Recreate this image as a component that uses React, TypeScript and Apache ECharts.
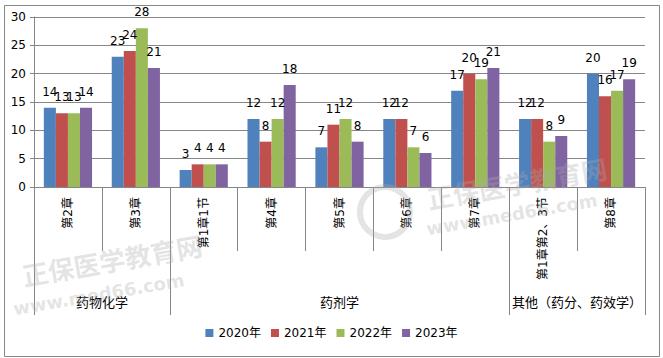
import React, { useEffect, useRef } from "react";
import * as echarts from "echarts";

const categories = ["第2章", "第3章", "第1章1节", "第4章", "第5章", "第6章", "第7章", "第1章第2、3节", "第8章"];
const seriesNames = ["2020年", "2021年", "2022年", "2023年"];
const v2020 = [14, 23, 3, 12, 7, 12, 17, 12, 20];
const v2021 = [13, 24, 4, 8, 11, 12, 20, 12, 16];
const v2022 = [13, 28, 4, 12, 12, 7, 19, 8, 17];
const v2023 = [14, 21, 4, 18, 8, 6, 21, 9, 19];
const groupNames = ["药物化学", "药剂学", "其他（药分、药效学）"];
const groupCenters = [1, 4.5, 8];
const groupBounds = [0, 2, 7, 9];
const yTicks = [0, 5, 10, 15, 20, 25, 30];
const colors = ["#4F81BD", "#C0504D", "#9BBB59", "#8064A2"];

export default function App() {
  const ref = useRef<HTMLDivElement>(null);
  useEffect(() => {
    if (!ref.current) return;
    const chart = echarts.init(ref.current, null, { renderer: "svg" });
    const values = [v2020, v2021, v2022, v2023];
    const font = "'DejaVu Sans', 'Noto Sans CJK SC', sans-serif";
    const wm = "rgba(170,170,170,0.32)";
    chart.setOption({
      animation: false,
      textStyle: { fontFamily: font },
      grid: { left: 34, right: 18, top: 17, bottom: 171, containLabel: false },
      legend: {
        bottom: 14,
        left: "center",
        itemWidth: 8,
        itemHeight: 8,
        itemGap: 10,
        icon: "rect",
        textStyle: { fontSize: 12, color: "#000", fontFamily: font },
        data: seriesNames,
      },
      xAxis: [
        {
          type: "category",
          data: categories,
          axisLine: { show: true, lineStyle: { color: "#868686" } },
          axisTick: { show: true, length: 64, alignWithLabel: false, lineStyle: { color: "#868686" } },
          axisLabel: { interval: 0, rotate: 90, fontSize: 12, color: "#000", margin: 10 },
        },
        {
          type: "value",
          position: "bottom",
          min: 0,
          max: 9,
          splitLine: { show: false },
          axisLine: { show: false },
          axisTick: { show: true, length: 128, customValues: groupBounds, lineStyle: { color: "#868686" } },
          axisLabel: {
            show: true,
            customValues: groupCenters,
            margin: 109,
            fontSize: 13,
            color: "#000",
            formatter: (v: number) => groupNames[groupCenters.indexOf(v)] ?? "",
          },
        },
      ],
      yAxis: {
        type: "value",
        min: 0,
        max: 30,
        interval: 5,
        axisLine: { show: true, lineStyle: { color: "#868686" } },
        axisTick: { show: true, length: 4, lineStyle: { color: "#868686" } },
        axisLabel: { fontSize: 12, color: "#000", margin: 8, formatter: (v: number) => (yTicks.includes(v) ? String(v) : "") },
        splitLine: { show: true, lineStyle: { color: "#868686" } },
      },
      series: seriesNames.map((name, i) => ({
        name,
        type: "bar",
        xAxisIndex: 0,
        data: values[i],
        barGap: "0%",
        barCategoryGap: "29%",
        itemStyle: { color: colors[i] },
        label: { show: true, position: "top", distance: 10, fontSize: 12, color: "#000" },
      })),
      graphic: [
        { type: "rect", left: 2, top: 3, shape: { width: 655, height: 351 }, style: { fill: "none", stroke: "#888", lineWidth: 1 }, silent: true },
        { type: "text", x: 20, y: 262, rotation: 0.17, style: { text: "正保医学教育网", fill: wm, font: "bold 26px 'Noto Sans CJK SC'" }, silent: true, z: 100 },
        { type: "text", x: 12, y: 300, rotation: 0.17, style: { text: "www.med66.com", fill: wm, font: "bold 18px 'DejaVu Sans'" }, silent: true, z: 100 },
        { type: "circle", shape: { cx: 385, cy: 212, r: 25 }, style: { fill: "none", stroke: wm, lineWidth: 6 }, silent: true, z: 100 },
        { type: "text", x: 425, y: 185, rotation: 0.17, style: { text: "正保医学教育网", fill: wm, font: "bold 26px 'Noto Sans CJK SC'" }, silent: true, z: 100 },
        { type: "text", x: 425, y: 220, rotation: 0.17, style: { text: "www.med66.com", fill: wm, font: "bold 18px 'DejaVu Sans'" }, silent: true, z: 100 },
      ],
    });
    return () => chart.dispose();
  }, []);
  return <div ref={ref} style={{ position: "fixed", left: 0, top: 0, width: 663, height: 358, background: "#fff" }} />;
}
